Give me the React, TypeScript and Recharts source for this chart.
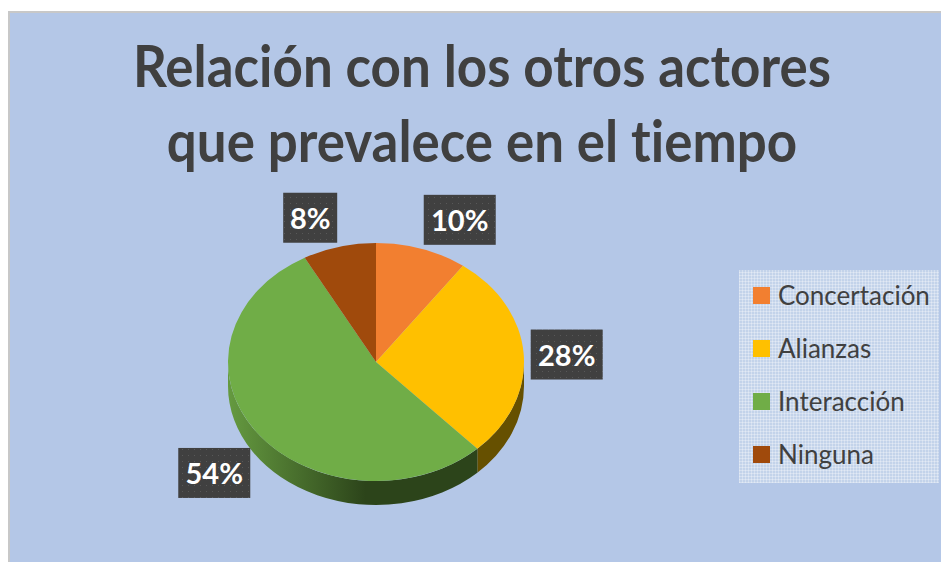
import { PieChart, Pie, Legend, Cell } from "recharts"

const categories = ["Concertación", "Alianzas", "Interacción", "Ninguna"]
const shares = [10, 28, 54, 8]
const colors = ["#f27f30", "#ffc000", "#70ad47", "#a04a0c"]
const wallColors = ["#8a4a1c", "#665000", "url(#greenWall)", "#5f2c07"]
const titleLines = ["Relación con los otros actores", "que prevalece en el tiempo"]

// label box centre, relative to where the slice's mid angle meets the rim
const labelOffsets = [
  [38, -29],
  [43, 0],
  [-42, 41],
  [-29, -29],
]

const data = categories.map((name, i) => ({ name, value: shares[i] }))

const CX = 368
const CY = 351
const RX = 148
const SQUASH = 119 / 148
const DEPTH = 24
const RAD = Math.PI / 180

function rim(angle: number, dy = 0) {
  return [CX + RX * Math.cos(angle * RAD), CY + dy - RX * SQUASH * Math.sin(angle * RAD)]
}

// recharts gives a round sector, this tilts it and adds the side wall
function TiltedSlice(props: any) {
  const { startAngle, endAngle, fill, index } = props
  const lo = Math.min(startAngle, endAngle)
  const hi = Math.max(startAngle, endAngle)
  const [x1, y1] = rim(startAngle)
  const [x2, y2] = rim(endAngle)
  const large = hi - lo > 180 ? 1 : 0
  const top = `M${CX},${CY} L${x1},${y1} A${RX},${RX * SQUASH} 0 ${large} 1 ${x2},${y2} Z`

  // the wall shows only on the front half of the ellipse (180..360 and its repeats)
  const walls: string[] = []
  for (const [a, b] of [
    [-180, 0],
    [180, 360],
  ]) {
    const s = Math.max(lo, a)
    const e = Math.min(hi, b)
    if (e <= s) continue
    const [ax, ay] = rim(e)
    const [bx, by] = rim(s)
    const big = e - s > 180 ? 1 : 0
    walls.push(
      `M${ax},${ay} A${RX},${RX * SQUASH} 0 ${big} 1 ${bx},${by} L${bx},${by + DEPTH} A${RX},${RX * SQUASH} 0 ${big} 0 ${ax},${ay + DEPTH} Z`
    )
  }
  return (
    <g>
      {walls.map((d, i) => (
        <path key={i} d={d} fill={wallColors[index]} />
      ))}
      <path d={top} fill={fill} />
    </g>
  )
}

function PercentLabel(props: any) {
  const { midAngle, value, index } = props
  const [rx, ry] = rim(midAngle)
  const x = rx + labelOffsets[index][0]
  const y = ry + labelOffsets[index][1]
  const w = String(value).length > 1 ? 72 : 54
  return (
    <g>
      <rect x={x - w / 2} y={y - 25} width={w} height={50} fill="url(#labelDots)" />
      <text
        x={x}
        y={y + 11}
        textAnchor="middle"
        fontFamily="Lato"
        fontWeight={700}
        fontSize={29}
        fill="#ffffff"
      >
        {value}%
      </text>
    </g>
  )
}

function LegendBox({ payload }: any) {
  return (
    <div
      style={{
        width: 200,
        height: 213,
        boxSizing: "border-box",
        paddingTop: 17,
        paddingLeft: 14,
        backgroundColor: "#c3d3ea",
        backgroundImage:
          "repeating-linear-gradient(0deg, rgba(255,255,255,0.3) 0 1px, transparent 1px 3px), repeating-linear-gradient(90deg, rgba(255,255,255,0.3) 0 1px, transparent 1px 3px)",
      }}
    >
      {(payload ?? []).map((entry: any) => (
        <div key={entry.value} style={{ display: "flex", alignItems: "center", height: 53 }}>
          <span style={{ width: 17, height: 17, background: entry.color, marginRight: 8, marginTop: -36 }} />
          <span
            style={{
              fontFamily: "Lato",
              fontSize: 26,
              color: "#404040",
              lineHeight: "17px",
              marginTop: -36,
              whiteSpace: "nowrap",
            }}
          >
            {entry.value}
          </span>
        </div>
      ))}
    </div>
  )
}

export default function App() {
  return (
    <div
      style={{
        position: "absolute",
        left: 8,
        top: 11,
        width: 933,
        height: 551,
        background: "#b4c7e7",
        boxShadow: "inset 2px 2px 0 #c8c8c8",
      }}
    >
      <PieChart width={933} height={551}>
        <defs>
          <linearGradient id="greenWall" gradientUnits="userSpaceOnUse" x1={220} y1={0} x2={470} y2={0}>
            <stop offset="0" stopColor="#659a40" />
            <stop offset="0.55" stopColor="#2c441a" />
            <stop offset="1" stopColor="#2c441a" />
          </linearGradient>
          <pattern id="labelDots" width={6} height={6} patternUnits="userSpaceOnUse">
            <rect width={6} height={6} fill="#404040" />
            <rect width={1} height={1} fill="#585858" />
          </pattern>
        </defs>
        {/* Calibri is narrower than Lato, so the title is squeezed a little */}
        {titleLines.map((line, i) => (
          <text
            key={line}
            x={0}
            y={76 + i * 75}
            transform="translate(474 0) scale(0.912 1)"
            textAnchor="middle"
            fontFamily="Lato"
            fontWeight={700}
            fontSize={58}
            fill="#404040"
            style={{ fontVariantLigatures: "none" }}
          >
            {line}
          </text>
        ))}
        <Pie
          data={data}
          dataKey="value"
          nameKey="name"
          cx={CX}
          cy={CY}
          outerRadius={RX}
          startAngle={90}
          endAngle={-270}
          stroke="none"
          labelLine={false}
          label={PercentLabel}
          shape={TiltedSlice}
          isAnimationActive={false}
        >
          {data.map((d, i) => (
            <Cell key={d.name} fill={colors[i]} />
          ))}
        </Pie>
        <Legend
          layout="vertical"
          content={LegendBox}
          itemSorter={null}
          wrapperStyle={{ left: 731, top: 259, width: 200, bottom: "auto", right: "auto" }}
        />
      </PieChart>
    </div>
  )
}
